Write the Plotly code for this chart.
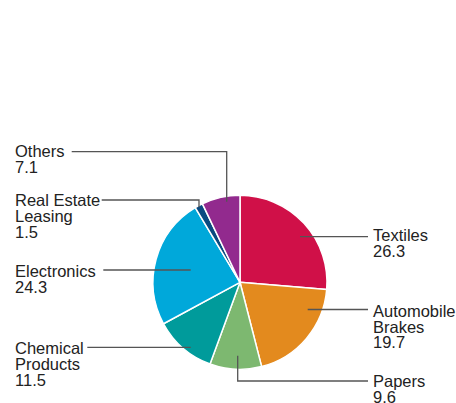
import plotly.graph_objects as go

# ---- data ----
categories = ["Textiles", "Automobile Brakes", "Papers", "Chemical Products",
              "Electronics", "Real Estate Leasing", "Others"]
values = [26.3, 19.7, 9.6, 11.5, 24.3, 1.5, 7.1]
label_lines = [["Textiles"], ["Automobile", "Brakes"], ["Papers"],
               ["Chemical", "Products"], ["Electronics"],
               ["Real Estate", "Leasing"], ["Others"]]

# ---- styles / layout ----
colors = ["#D01048", "#E38A1E", "#7DB870", "#009B9B", "#00A8DA", "#0A4A80", "#922A8E"]
W, H = 456, 403
CX, CY, R = 240, 282.3, 87
FONT = "Liberation Sans, Arial, Helvetica, sans-serif"
FS = 16.5
LINE_H = 15.8
TEXT_COLOR = "#222222"
LEADER_COLOR = "#555555"

# label anchor (x, first baseline y) and leader path in pixel coordinates
label_pos = [
    (372, 241.0, [(368, 236.7), (300, 236.7)]),
    (372, 316.7, [(368, 309.5), (307.7, 309.5)]),
    (372, 386.7, [(368, 381), (237.7, 381), (237.7, 355.7)]),
    (14, 354.3, [(87.3, 347.3), (190.7, 347.3)]),
    (14, 276.7, [(103.3, 270), (190.7, 270)]),
    (14, 206.0, [(101.7, 200), (199, 200), (199, 207.3)]),
    (14, 157.3, [(71.7, 151.7), (226.7, 151.7), (226.7, 201.7)]),
]


def px(x):
    return x / W


def py(y):
    return 1 - y / H


fig = go.Figure()
fig.add_trace(go.Pie(
    labels=categories,
    values=values,
    sort=False,
    direction="clockwise",
    rotation=0,
    textinfo="none",
    marker=dict(colors=colors, line=dict(color="white", width=1.5)),
    domain=dict(x=[px(CX - R), px(CX + R)], y=[py(CY + R), py(CY - R)]),
    showlegend=False,
))

annotations = []
shapes = []
for lines, val, (tx, ty, path) in zip(label_lines, values, label_pos):
    all_lines = lines + [f"{val}"]
    for i, t in enumerate(all_lines):
        base = ty + i * LINE_H
        annotations.append(dict(
            x=px(tx), y=py(base - 0.36 * FS), xref="paper", yref="paper",
            text=t, showarrow=False, xanchor="left", yanchor="middle",
            borderpad=0, font=dict(family=FONT, size=FS, color=TEXT_COLOR),
        ))
    d = "M " + " L ".join(f"{px(x)},{py(y)}" for x, y in path)
    shapes.append(dict(type="path", path=d, xref="paper", yref="paper",
                       line=dict(color=LEADER_COLOR, width=1.3)))

fig.update_layout(
    width=W, height=H,
    margin=dict(l=0, r=0, t=0, b=0),
    paper_bgcolor="white", plot_bgcolor="white",
    annotations=annotations, shapes=shapes,
)

fig.write_html("out.html", config={"displayModeBar": False})

# remove default page margin so the figure fills the window exactly
with open("out.html", "r", encoding="utf-8") as f:
    html = f.read()
html = html.replace("<body>", '<body style="margin:0;padding:0;overflow:hidden">', 1)
with open("out.html", "w", encoding="utf-8") as f:
    f.write(html)
